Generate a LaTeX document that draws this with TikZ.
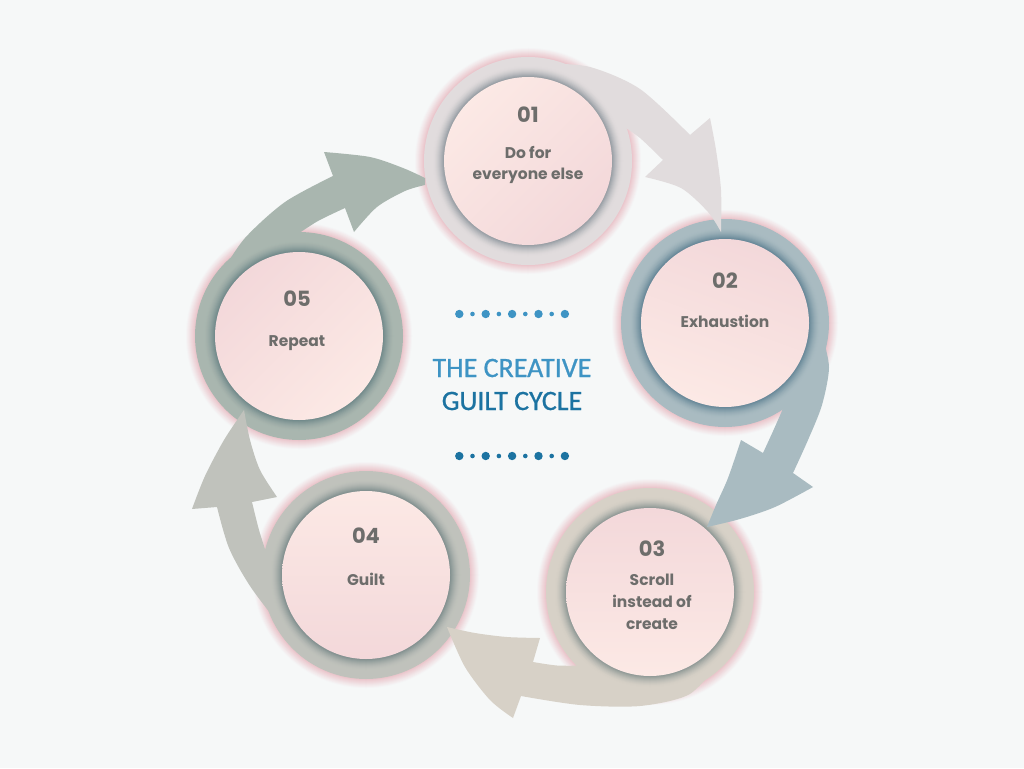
\documentclass[tikz,border=0pt]{standalone}
\usepackage{fontspec}
\setmainfont{Poppins}
\newfontfamily\titlefont[FakeBold=0.8]{Carlito}
\usetikzlibrary{calc}
\definecolor{bg}{HTML}{F6F8F8}
\definecolor{halo}{HTML}{EBC6CC}
\definecolor{rA}{HTML}{E1DCDD}\definecolor{sA}{HTML}{8E969D}
\definecolor{rB}{HTML}{A9BBC1}\definecolor{sB}{HTML}{5F8193}
\definecolor{rC}{HTML}{D7D1C7}\definecolor{sC}{HTML}{879290}
\definecolor{rD}{HTML}{C0C2BC}\definecolor{sD}{HTML}{7A8A8A}
\definecolor{rE}{HTML}{A9B6AF}\definecolor{sE}{HTML}{6A8486}
\definecolor{pkA}{HTML}{F3D8DA}
\definecolor{pkB}{HTML}{FCE9E5}
\definecolor{txt}{HTML}{6D6D6B}
\definecolor{ttlA}{HTML}{3E94C4}
\definecolor{ttlB}{HTML}{1C73A1}
\newcommand\mkhalo[1]{%
  \foreach \i in {0,...,9}{%
    \pgfmathtruncatemacro\pp{100*(\i/9)^1.1}%
    \fill[halo!\pp!bg] (#1) circle[radius=114-\i];}}
\newcommand\mkring[3]{%
  \fill[#2] (#1) circle[radius=104];
  \foreach \i in {0,...,12}{%
    \pgfmathtruncatemacro\pp{100*(\i/12)^1.7}%
    \fill[#3!\pp!#2] (#1) circle[radius=96-\i];}}
\tikzset{
  num/.style={font=\bfseries\fontsize{21}{24}\selectfont, text=txt, anchor=base, inner sep=0pt},
  lab/.style={font=\bfseries\fontsize{15.5}{20}\selectfont, text=txt, anchor=base, inner sep=0pt},
  ttl/.style={font=\titlefont\fontsize{28}{32}\selectfont, anchor=base, inner sep=0pt},
  core/.style={left color=pkA, right color=pkB, shading angle=#1},
}
\begin{document}
\begin{tikzpicture}[x=1pt,y=-1pt]
\useasboundingbox (0,0) rectangle (1024,768);
\fill[bg] (0,0) rectangle (1024,768);
\coordinate (c1) at (528,161);
\coordinate (c2) at (725,323);
\coordinate (c3) at (650,592);
\coordinate (c4) at (366,575);
\coordinate (c5) at (299,336);
% halos
\mkhalo{c1}\mkhalo{c2}\mkhalo{c3}\mkhalo{c4}\mkhalo{c5}
% rings
\mkring{c1}{rA}{sA}
\mkring{c2}{rB}{sB}
\mkring{c3}{rC}{sC}
\mkring{c4}{rD}{sD}
\mkring{c5}{rE}{sE}
% arrow 01 -> 02
\fill[rA] plot[smooth] coordinates {(545.4,63.5) (590,67) (640,89) (690,135)}
  -- (710,118)
  -- plot[smooth] coordinates {(710,118) (716,150) (721,190) (721,232)}
  -- plot[smooth] coordinates {(721,232) (708,212) (681,188) (645,177)}
  -- (663,160)
  -- plot[smooth] coordinates {(663,160) (640,138) (620.7,124.5)}
  -- plot[domain=0:1,samples=12] ({528+100*cos(-22-58*\x)},{161+100*sin(-22-58*\x)})
  -- cycle;
% arrow 02 -> 03
\fill[rB] plot[smooth] coordinates {(823.5,340.4) (829,368) (822,405) (808,440) (793,473)}
  -- (813,487)
  -- plot[smooth] coordinates {(813,487) (775,507) (740,519) (707,527)}
  -- plot[smooth] coordinates {(707,527) (716,505) (728,478) (741,440)}
  -- (763,453)
  -- plot[smooth] coordinates {(763,453) (774,429) (785.6,402.5)}
  -- plot[domain=0:1,samples=12] ({725+100*cos(52.7-42.7*\x)},{323+100*sin(52.7-42.7*\x)})
  -- cycle;
% arrow 03 -> 04
\fill[rC] plot[smooth] coordinates {(714.3,668.6) (688,695) (640,706) (580,705) (521,696)}
  -- (513,718)
  -- plot[smooth] coordinates {(513,718) (490,700) (465,667) (447,627)}
  -- plot[smooth] coordinates {(447,627) (475,633) (507,637) (540,638)}
  -- (533,662)
  -- plot[smooth] coordinates {(533,662) (557,665.5) (582.3,665.6)}
  -- plot[domain=0:1,samples=14] ({650+100*cos(132.6-82.6*\x)},{592+100*sin(132.6-82.6*\x)})
  -- cycle;
% arrow 04 -> 05
\fill[rD] plot[smooth] coordinates {(279.4,625) (250,586) (229,548) (217,507)}
  -- (192,509)
  -- plot[smooth] coordinates {(192,509) (205,476) (224,440) (244,410)}
  -- plot[smooth] coordinates {(244,410) (250,440) (260,470) (277,497)}
  -- (252,502)
  -- plot[smooth] coordinates {(252,502) (259,530) (267.6,557)}
  -- plot[domain=0:1,samples=10] ({366+100*cos(190.4-40.4*\x)},{575+100*sin(190.4-40.4*\x)})
  -- cycle;
% arrow 05 -> 01
\fill[rE] plot[smooth] coordinates {(222.4,271.7) (245,238) (285,202) (333,176)}
  -- (324,152)
  -- plot[smooth] coordinates {(324,152) (370,157) (403,168) (425,178)}
  -- (425,185)
  -- plot[smooth] coordinates {(425,185) (405,191) (377,207) (354,232)}
  -- (345,208)
  -- plot[smooth] coordinates {(345,208) (318,221) (295,236)}
  -- plot[domain=0:1,samples=10] ({299+100*cos(267.7-47.7*\x)},{336+100*sin(267.7-47.7*\x)})
  -- cycle;
% cores
\shade[core=225] (c1) circle[radius=84];
\shade[core=-20] (c2) circle[radius=84];
\shade[core=0] (c3) circle[radius=84];
\shade[core=180] (c4) circle[radius=84];
\shade[core=45] (c5) circle[radius=84];
% texts
\node[num] (n1) at (528,122) {01};
\node[lab] (l1a) at (528,158) {Do for};
\node[lab] (l1b) at (528,179) {everyone else};
\node[num] (n2) at (725,288) {02};
\node[lab] (l2a) at (725,327) {Exhaustion};
\node[num] (n3) at (652,556) {03};
\node[lab] (l3a) at (652,585) {Scroll};
\node[lab] (l3b) at (652,607) {instead of};
\node[lab] (l3c) at (652,629) {create};
\node[num] (n4) at (366,543) {04};
\node[lab] (l4a) at (366,585) {Guilt};
\node[num] (n5) at (297,306) {05};
\node[lab] (l5a) at (297,346) {Repeat};
% title
\node[ttl, text=ttlA] (t1) at (512,377) {THE CREATIVE};
\node[ttl, text=ttlB] (t2) at (512,410) {GUILT CYCLE};
% dots
\foreach \k in {0,...,8}{%
  \pgfmathsetmacro\xx{459.3+13.2*\k}%
  \pgfmathsetmacro\rr{ifthenelse(mod(\k,2)==0,4.2,2.3)}%
  \fill[ttlA] (\xx,314) circle[radius=\rr];
  \fill[ttlB] (\xx,456) circle[radius=\rr];}
\end{tikzpicture}
\end{document}
